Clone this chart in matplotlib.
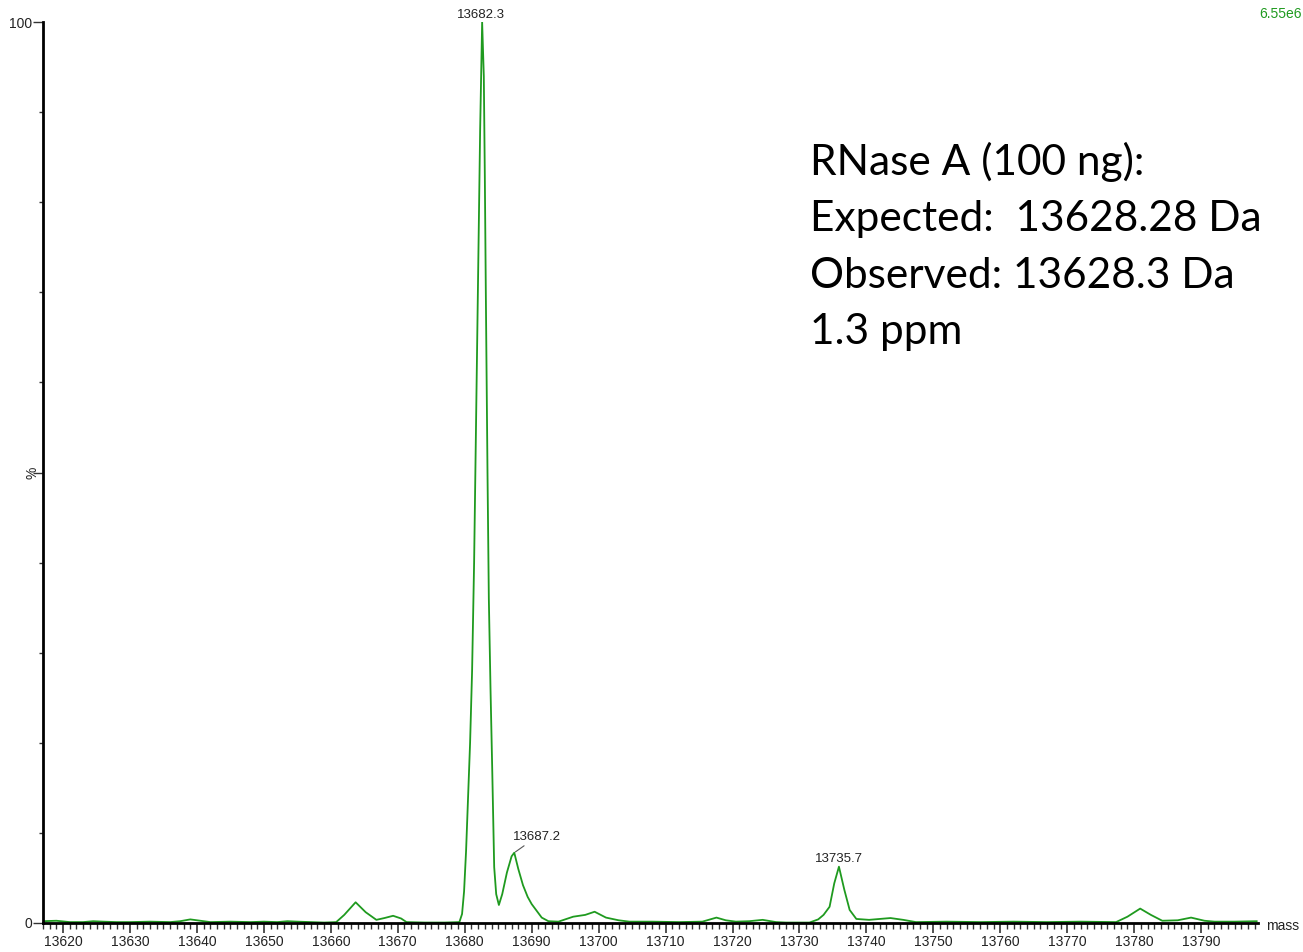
"""Deconvoluted mass spectrum of RNase A"""

import matplotlib.pyplot as plt
from matplotlib.ticker import MultipleLocator

# spectrum: mass (Da) and relative intensity (%)
mass = [
    13617.0, 13619.0, 13621.0, 13623.0, 13624.5, 13626.0, 13628.0, 13630.0,
    13633.0, 13636.0, 13637.5, 13639.0, 13640.5, 13642.0, 13645.0, 13648.0,
    13650.0, 13652.0, 13653.5, 13655.0, 13657.0, 13659.0, 13660.8, 13662.0,
    13663.7, 13665.2, 13666.8, 13668.0, 13669.3, 13670.5, 13671.3, 13674.0,
    13677.0, 13679.2, 13679.6, 13679.9, 13680.2, 13680.5, 13680.8, 13681.1,
    13681.4, 13681.7, 13682.0, 13682.3, 13682.6, 13682.85, 13683.0, 13683.15,
    13683.4, 13683.6, 13683.85, 13684.1, 13684.4, 13684.7, 13685.1, 13685.6,
    13686.3, 13687.0, 13687.4, 13688.0, 13688.7, 13689.4, 13690.0, 13690.7,
    13691.5, 13692.5, 13694.0, 13696.2, 13698.0, 13699.4, 13701.1, 13703.0,
    13704.6, 13708.0, 13712.0, 13715.5, 13717.6, 13719.0, 13720.5, 13722.5,
    13724.5, 13726.5, 13728.0, 13731.5, 13732.8, 13733.6, 13734.5, 13735.2,
    13735.9, 13736.7, 13737.5, 13738.5, 13740.4, 13743.6, 13745.5, 13747.4,
    13752.0, 13757.0, 13762.0, 13767.0, 13772.0, 13777.3, 13779.0, 13780.9,
    13782.5, 13784.2, 13786.5, 13788.5, 13790.5, 13792.0, 13795.0, 13798.3,
]
intensity = [
    0.2, 0.25, 0.1, 0.1, 0.2, 0.15, 0.1, 0.1,
    0.15, 0.1, 0.2, 0.4, 0.25, 0.1, 0.15, 0.1,
    0.15, 0.1, 0.2, 0.15, 0.1, 0.05, 0.1, 0.9,
    2.3, 1.2, 0.35, 0.55, 0.8, 0.5, 0.1, 0.05,
    0.05, 0.1, 1.0, 3.5, 8.0, 14.0, 20.0, 28.0,
    40.0, 56.0, 72.0, 88.0, 100.0, 94.0, 83.0, 70.0,
    50.0, 36.0, 26.0, 17.3, 6.2, 3.2, 2.0, 3.2,
    5.6, 7.4, 7.8, 6.0, 4.2, 2.9, 2.1, 1.4,
    0.6, 0.2, 0.15, 0.7, 0.9, 1.25, 0.6, 0.3,
    0.15, 0.15, 0.1, 0.15, 0.6, 0.3, 0.15, 0.2,
    0.35, 0.1, 0.05, 0.05, 0.4, 0.9, 1.8, 4.4,
    6.25, 3.7, 1.45, 0.45, 0.35, 0.55, 0.35, 0.1,
    0.15, 0.1, 0.15, 0.1, 0.15, 0.1, 0.7, 1.6,
    0.9, 0.25, 0.3, 0.6, 0.25, 0.15, 0.15, 0.2,
]

# labelled peaks
peak_mass = [13682.6, 13687.4, 13735.9]
peak_height = [100.0, 7.8, 6.25]
peak_text = ['13682.3', '13687.2', '13735.7']

info_lines = [
    'RNase A (100 ng):',
    'Expected:  13628.28 Da',
    'Observed: 13628.3 Da',
    '1.3 ppm',
]

line_color = '#1f9a1f'

fig = plt.figure(figsize=(13.03, 9.52), dpi=100)
ax = fig.add_axes([43 / 1303, 1 - 923 / 952, (1258 - 43) / 1303, (923 - 22) / 952])

ax.plot(mass, intensity, color=line_color, lw=1.3)

ax.set_xlim(13617, 13798.5)
ax.set_ylim(0, 100)

for sp in ['top', 'right']:
    ax.spines[sp].set_visible(False)
for sp in ['left', 'bottom']:
    ax.spines[sp].set_linewidth(2)
    ax.spines[sp].set_color('black')

ax.xaxis.set_major_locator(MultipleLocator(10))
ax.xaxis.set_minor_locator(MultipleLocator(1))
ax.tick_params(axis='x', which='major', length=7, width=1.2, color='#333333',
               labelsize=10, labelcolor='#222222', pad=2)
ax.tick_params(axis='x', which='minor', length=4, width=1.0, color='#333333')

ax.set_yticks([0, 50, 100])
ax.set_yticklabels(['0', '', '100'])
ax.yaxis.set_minor_locator(MultipleLocator(10))
ax.tick_params(axis='y', which='major', length=7, width=1.0, color='#333333',
               labelsize=10, labelcolor='#222222', pad=1)
ax.tick_params(axis='y', which='minor', length=3, width=1.0, color='#333333')

for lbl in ax.get_xticklabels() + ax.get_yticklabels():
    lbl.set_family('Liberation Sans')

# % sign next to the 50 tick
ax.text(-0.0085, 0.5, '%', transform=ax.transAxes, rotation=90, ha='center', va='center',
        fontsize=10, color='#222222', family='Liberation Sans')

# mass label at end of x axis
fig.text(1266 / 1303, 1 - 926 / 952, 'mass', ha='left', va='center', fontsize=10,
         color='#222222', family='Liberation Sans')

# max intensity in the corner
fig.text(1302 / 1303, 1 - 14 / 952, '6.55e6', ha='right', va='center', fontsize=10,
         color=line_color, family='Liberation Sans')

# peak labels
ax.annotate(peak_text[0], (peak_mass[0], peak_height[0]), xytext=(-1, 0.5),
            textcoords='offset points', ha='center', va='bottom', fontsize=9.5,
            color='#222222', family='Liberation Sans', annotation_clip=False)
ax.annotate(peak_text[1], (peak_mass[1], peak_height[1]), xytext=(16, 7),
            textcoords='offset points', ha='center', va='bottom', fontsize=9.5,
            color='#222222', family='Liberation Sans',
            arrowprops=dict(arrowstyle='-', color='#555555', lw=0.8, shrinkA=0, shrinkB=1))
ax.annotate(peak_text[2], (peak_mass[2], peak_height[2]), xytext=(0, 1),
            textcoords='offset points', ha='center', va='bottom', fontsize=9.5,
            color='#222222', family='Liberation Sans')

# info block
baselines = [175, 231, 288, 344]
for txt, yb in zip(info_lines, baselines):
    fig.text(810 / 1303, 1 - yb / 952, txt, ha='left', va='baseline', fontsize=30.5,
             color='black', family='Lato')

fig.savefig('out.png', dpi=100)
